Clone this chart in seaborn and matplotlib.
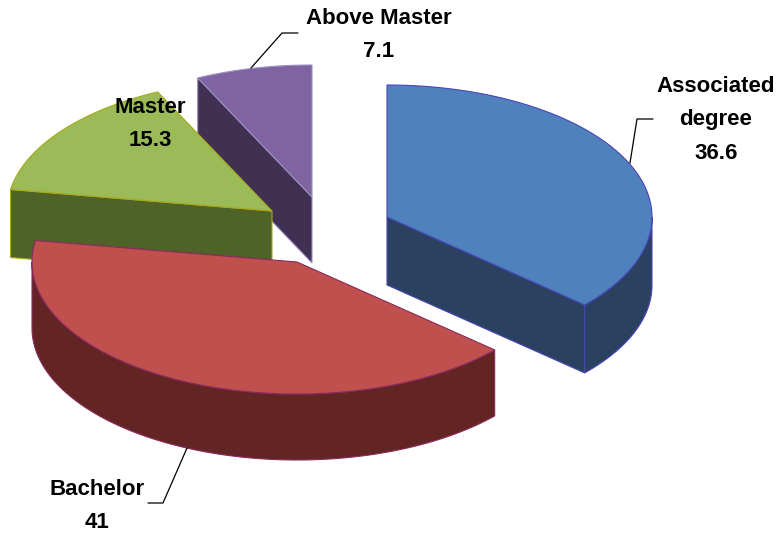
import numpy as np
import seaborn as sns
import matplotlib.pyplot as plt
from matplotlib.patches import Polygon

categories = ['Associated\ndegree', 'Bachelor', 'Master', 'Above Master']
values = [36.6, 41, 15.3, 7.1]
value_labels = ['36.6', '41', '15.3', '7.1']

top_colors = ['#4F81BD', '#C0504D', '#9BBB59', '#8064A2']
side_colors = ['#2A4160', '#632523', '#4F6228', '#403152']
edge_colors = ['#4A45B8', '#8A2A60', '#A8A818', '#9A90C4']

# exploded apex of each slice, in pixels
apex = [(387, 217), (297, 262), (272, 211), (312, 197)]
depths = [68, 66, 68, 66]
label_pos = [(716, 120), (97, 506), (150, 124), (379, 35)]
leaders = [[(630, 163), (637, 119), (653, 119)],
           [(187, 448), (163, 503), (148, 503)],
           None,
           [(251, 68), (282, 33), (298, 33)]]
rx, ry = 265, 132

sns.set_theme(style='white')
plt.rcParams['font.family'] = ['Liberation Sans', 'DejaVu Sans']

fig, ax = plt.subplots(figsize=(7.77, 5.35), dpi=100)
ax.set_position([0, 0, 1, 1])
ax.set_xlim(0, 777)
ax.set_ylim(535, 0)
ax.axis('off')


def rim(i, t0, t1):
    t = np.radians(np.linspace(t0, t1, 120))
    return np.column_stack([apex[i][0] + rx * np.sin(t), apex[i][1] - ry * np.cos(t)])


def draw_slice(i, t0, t1):
    arc = rim(i, t0, t1)
    cx, cy = apex[i]
    down = np.array([0, depths[i]])
    # radial walls, only those that face the viewer
    if 180 < t0 < 360:
        wall = [(cx, cy), arc[0], arc[0] + down, (cx, cy + depths[i])]
        ax.add_patch(Polygon(wall, fc=side_colors[i], ec=edge_colors[i], lw=0.8))
    if 0 < t1 < 180:
        wall = [(cx, cy), arc[-1], arc[-1] + down, (cx, cy + depths[i])]
        ax.add_patch(Polygon(wall, fc=side_colors[i], ec=edge_colors[i], lw=0.8))
    # outer wall
    lo, hi = max(t0, 90), min(t1, 270)
    if lo < hi:
        front = rim(i, lo, hi)
        wall = np.vstack([front, (front + down)[::-1]])
        ax.add_patch(Polygon(wall, fc=side_colors[i], ec=edge_colors[i], lw=0.8))
    ax.add_patch(Polygon(np.vstack([[cx, cy], arc]), fc=top_colors[i], ec=edge_colors[i], lw=0.8))


angles = np.concatenate([[0], np.cumsum(values)]) / sum(values) * 360
for i in [3, 2, 0, 1]:
    draw_slice(i, angles[i], angles[i + 1])

for i, name in enumerate(categories):
    ax.text(label_pos[i][0], label_pos[i][1], name + '\n' + value_labels[i], ha='center', va='center',
            fontsize=16, fontweight='bold', color='black', linespacing=1.78)
    if leaders[i] is not None:
        pts = np.array(leaders[i])
        ax.plot(pts[:, 0], pts[:, 1], color='black', lw=0.9)

fig.savefig('out.png', dpi=100)
